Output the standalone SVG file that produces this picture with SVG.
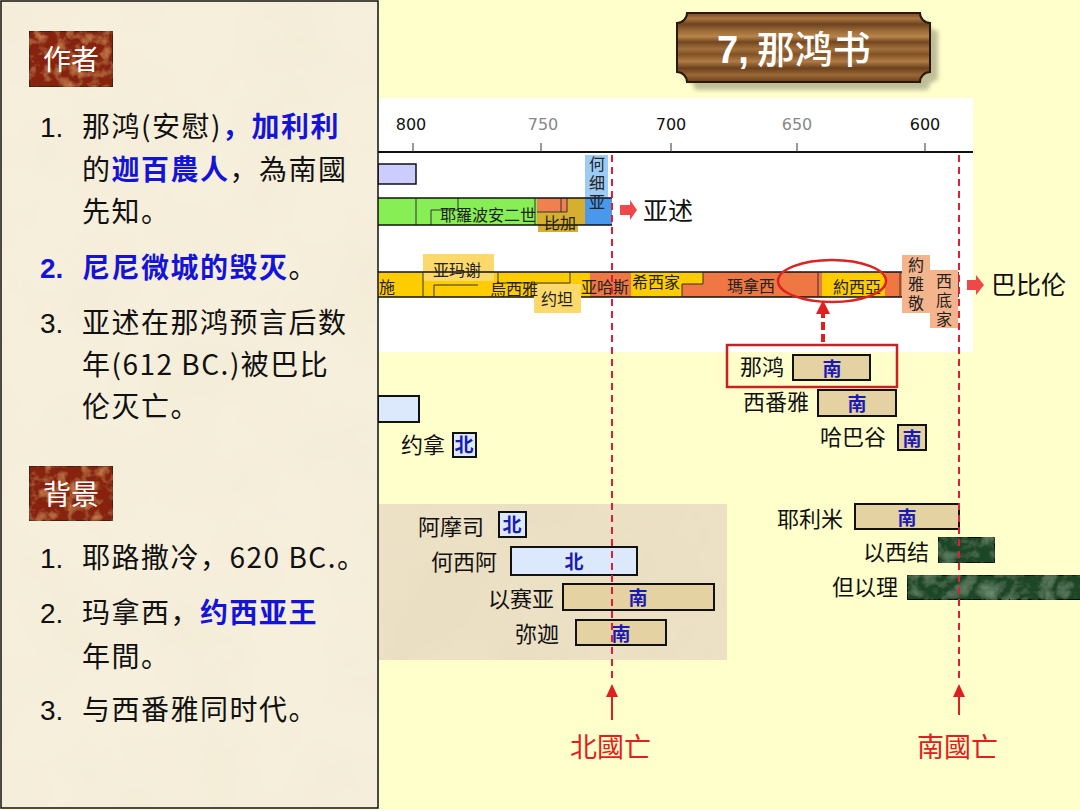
<svg xmlns="http://www.w3.org/2000/svg" width="1080" height="810" viewBox="0 0 1080 810">
<defs>
<style>
.cjk{font-family:'Noto Sans CJK SC','Noto Sans CJK TC',sans-serif}
.lat{font-family:'Liberation Sans',Arial,sans-serif}
.item{font-family:'Noto Sans CJK SC',sans-serif;font-size:28px;letter-spacing:1.5px;fill:#111}
.hl{fill:#1414D8;font-weight:bold}
.ax{font-family:'DejaVu Sans',sans-serif;font-size:16px;text-anchor:middle}
.bl{font-family:'Noto Sans CJK SC',sans-serif;font-size:16px;fill:#222}
.vt{font-family:'Noto Sans CJK SC',sans-serif;font-size:16px;fill:#222;writing-mode:vertical-rl;letter-spacing:3px}
.pn{font-family:'Noto Sans CJK SC',sans-serif;font-size:22px;fill:#111}
.kg{font-family:'Noto Sans CJK SC',sans-serif;font-size:19px;fill:#1A1AB4;font-weight:bold;text-anchor:middle}
.sb{fill:#E5D2A2;stroke:#111;stroke-width:2}
.nb{fill:#DCE9FC;stroke:#111;stroke-width:2}
.gb{fill:#1D4626;stroke:#111;stroke-width:2}
.dash{stroke:#E01E3A;stroke-width:2;stroke-dasharray:7 5;fill:none}
.red{fill:#E02020}
.bar{stroke:#111;stroke-width:1.5;fill:none}
.thin{stroke:#333;stroke-width:1;fill:none}
</style>
<filter id="paper" x="0" y="0" width="100%" height="100%">
<feTurbulence type="fractalNoise" baseFrequency="0.012" numOctaves="4" seed="4" result="n"/>
<feColorMatrix in="n" type="matrix" values="0 0 0 0 0.86  0 0 0 0 0.79  0 0 0 0 0.62  0.7 0 0 0 -0.28" result="c"/>
<feComposite in="c" in2="SourceGraphic" operator="atop"/>
</filter>
<filter id="marble" x="0" y="0" width="100%" height="100%">
<feTurbulence type="turbulence" baseFrequency="0.05" numOctaves="3" seed="7" result="n"/>
<feColorMatrix in="n" type="matrix" values="0 0 0 0 0.32  0 0 0 0 0.52  0 0 0 0 0.34  0.7 0 0 0 -0.12" result="c"/>
<feComposite in="c" in2="SourceGraphic" operator="atop"/>
</filter>
<filter id="rust" x="0" y="0" width="100%" height="100%">
<feTurbulence type="fractalNoise" baseFrequency="0.09" numOctaves="3" seed="2" result="n"/>
<feColorMatrix in="n" type="matrix" values="0 0 0 0 0.78  0 0 0 0 0.30  0 0 0 0 0.10  1.6 0 0 0 -0.75" result="c"/>
<feComposite in="c" in2="SourceGraphic" operator="atop"/>
</filter>
<filter id="shadow" x="-10%" y="-10%" width="130%" height="140%">
<feGaussianBlur stdDeviation="2"/>
</filter>
<linearGradient id="wood" x1="0" y1="0" x2="0" y2="1">
<stop offset="0" stop-color="#7A4A22"/>
<stop offset="0.08" stop-color="#A87440"/>
<stop offset="0.16" stop-color="#6E4220"/>
<stop offset="0.26" stop-color="#9C6A38"/>
<stop offset="0.34" stop-color="#B7844C"/>
<stop offset="0.42" stop-color="#74461F"/>
<stop offset="0.52" stop-color="#A0703C"/>
<stop offset="0.6" stop-color="#825226"/>
<stop offset="0.7" stop-color="#B07C46"/>
<stop offset="0.8" stop-color="#6C411E"/>
<stop offset="0.9" stop-color="#9A6836"/>
<stop offset="1" stop-color="#6A3E1C"/>
</linearGradient>
</defs>

<rect x="0" y="0" width="1080" height="810" fill="#FFFFCC"/>

<g id="title">
<path d="M695,21 H928 A10,10 0 0 0 938,31 V80 A10,10 0 0 0 928,90 H695 A10,10 0 0 0 685,80 V31 A10,10 0 0 0 695,21 Z" fill="#8A8A70" opacity="0.55" filter="url(#shadow)"/>
<path d="M687,13 H920 A10,10 0 0 0 930,23 V72 A10,10 0 0 0 920,82 H687 A10,10 0 0 0 677,72 V23 A10,10 0 0 0 687,13 Z" fill="url(#wood)" stroke="#2A1808" stroke-width="2"/>
<text x="717" y="63" fill="#FFFFFF" font-weight="bold" font-size="38"><tspan class="lat">7,</tspan><tspan class="cjk" font-weight="500" dx="8">那鸿书</tspan></text>
</g>

<g id="timeline">
<rect x="378" y="98" width="595" height="254" fill="#FFFFFF"/>
<line x1="378" y1="152" x2="973" y2="152" stroke="#111" stroke-width="2"/>
<g stroke="#333" stroke-width="1">
<line x1="413" y1="143" x2="413" y2="152"/>
<line x1="541" y1="143" x2="541" y2="152"/>
<line x1="671" y1="143" x2="671" y2="152"/>
<line x1="797" y1="143" x2="797" y2="152"/>
<line x1="925" y1="143" x2="925" y2="152"/>
</g>
<text class="ax" x="411" y="130" fill="#111">800</text>
<text class="ax" x="543" y="130" fill="#888">750</text>
<text class="ax" x="671" y="130" fill="#111">700</text>
<text class="ax" x="797" y="130" fill="#888">650</text>
<text class="ax" x="925" y="130" fill="#111">600</text>
</g>

<g id="israel-kings">
<rect x="378" y="164" width="38" height="20" fill="#CCCCFF" stroke="#111" stroke-width="1.5"/>
<rect x="378" y="198" width="159" height="27" fill="#88EE55"/>
<rect x="537" y="198" width="48" height="27" fill="#D6AE30"/>
<rect x="537" y="198" width="30" height="14" fill="#F08050"/>
<rect x="538" y="212" width="40" height="20" fill="#D6AE30"/>
<rect x="585" y="155" width="23" height="43" fill="#9CCCF6"/>
<rect x="585" y="198" width="27" height="27" fill="#4A98EC"/>
<line class="thin" x1="416" y1="198" x2="416" y2="225" stroke="#5A9A3A"/>
<line class="thin" x1="458" y1="198" x2="458" y2="210" stroke="#5A9A3A"/>
<line class="thin" x1="535" y1="198" x2="535" y2="225" stroke="#5A9A3A"/>
<line class="thin" x1="561" y1="198" x2="561" y2="212"/>
<path class="thin" d="M431,225 V210 H458" stroke="#111" stroke-width="1.5"/>
<path class="thin" d="M537,212 H567 V198"/>
<line class="bar" x1="378" y1="198" x2="612" y2="198"/>
<line class="bar" x1="378" y1="225" x2="612" y2="225"/>
<text class="bl" x="440" y="221">耶羅波安二世</text>
<text class="bl" x="544" y="229">比加</text>
<text class="vt" x="597" y="156" font-size="17" letter-spacing="6">何细亚</text>
</g>

<g id="judah-kings">
<rect x="378" y="272" width="212" height="25" fill="#FFCC00"/>
<rect x="423" y="254" width="71" height="27" fill="#FCD96A"/>
<rect x="590" y="272" width="41" height="25" fill="#EE7744"/>
<rect x="631" y="272" width="72" height="25" fill="#FFCC00"/>
<rect x="682" y="284" width="21" height="13" fill="#EE7744"/>
<rect x="703" y="272" width="119" height="25" fill="#EE7744"/>
<rect x="822" y="272" width="63" height="25" fill="#FFCC00"/>
<rect x="885" y="272" width="73" height="25" fill="#EE7744"/>
<line class="bar" x1="378" y1="272" x2="958" y2="272"/>
<line class="bar" x1="378" y1="297" x2="958" y2="297"/>
<line class="bar" x1="958" y1="272" x2="958" y2="297"/>
<line class="thin" x1="423" y1="272" x2="423" y2="297" stroke="#A07000"/>
<path class="thin" d="M434,297 V285 H478"/>
<path class="thin" d="M498,272 V283 H570 V272"/>
<path class="thin" d="M682,297 V284 H703 V272"/>
<line class="thin" x1="818" y1="272" x2="818" y2="297" stroke="#A04020"/>
<line class="thin" x1="900" y1="272" x2="900" y2="297" stroke="#A04020"/>
<rect x="534" y="284" width="47" height="29" fill="#FCD96A"/>
<rect x="902" y="255" width="28" height="58" fill="#F4B48C"/>
<rect x="930" y="270" width="28" height="58" fill="#F4B48C"/>
<text class="bl" x="379" y="293">施</text>
<text class="bl" x="433" y="276">亚玛谢</text>
<text class="bl" x="490" y="295">烏西雅</text>
<text class="bl" x="541" y="305">约坦</text>
<text class="bl" x="581" y="293">亚哈斯</text>
<text class="bl" x="632" y="288">希西家</text>
<text class="bl" x="727" y="292">瑪拿西</text>
<text class="bl" x="833" y="293">約西亞</text>
<text class="vt" x="916" y="257">約雅敬</text>
<text class="vt" x="944" y="273">西底家</text>
<ellipse cx="832" cy="281" rx="54" ry="21" fill="none" stroke="#DD2222" stroke-width="2.5"/>
</g>

<g id="empire-assyria">
<polygon points="620,205 630,205 630,200 637,210 630,220 630,215 620,215" fill="#F04848"/>
<text class="cjk" x="643" y="220" font-size="25" fill="#111">亚述</text>
</g>
<g id="empire-babylon">
<polygon points="967,280 976,280 976,275 984,285 976,295 976,290 967,290" fill="#F04848"/>
<text class="cjk" x="991" y="294" font-size="25" fill="#111">巴比伦</text>
</g>

<g id="preexile-panel">
<rect x="378" y="504" width="349" height="156" fill="#EBDFC3" filter="url(#paper)"/>
</g>

<g id="prophet-jonah">
<rect x="378" y="396" width="41" height="26" fill="#DCE9FC" stroke="#111" stroke-width="2"/>
<text class="pn" x="401" y="453">约拿</text>
<rect class="nb" x="453" y="433" width="23" height="24"/>
<text class="kg" x="464" y="452">北</text>
</g>
<g id="prophet-amos">
<text class="pn" x="418" y="535">阿摩司</text>
<rect class="nb" x="499" y="512" width="27" height="25"/>
<text class="kg" x="512" y="532">北</text>
</g>
<g id="prophet-hosea">
<text class="pn" x="431" y="570">何西阿</text>
<rect class="nb" x="511" y="547" width="126" height="28"/>
<text class="kg" x="574" y="569">北</text>
</g>
<g id="prophet-isaiah">
<text class="pn" x="488" y="607">以赛亚</text>
<rect class="sb" x="563" y="584" width="151" height="26"/>
<text class="kg" x="638" y="605">南</text>
</g>
<g id="prophet-micah">
<text class="pn" x="515" y="642">弥迦</text>
<rect class="sb" x="576" y="620" width="90" height="25"/>
<text class="kg" x="621" y="641">南</text>
</g>
<g id="prophet-nahum">
<rect x="727" y="345" width="170" height="42" fill="none" stroke="#CC2020" stroke-width="2.5"/>
<text class="pn" x="740" y="375">那鸿</text>
<rect class="sb" x="793" y="355" width="77" height="25"/>
<text class="kg" x="832" y="376">南</text>
</g>
<g id="prophet-zephaniah">
<text class="pn" x="743" y="410">西番雅</text>
<rect class="sb" x="818" y="390" width="78" height="26"/>
<text class="kg" x="857" y="411">南</text>
</g>
<g id="prophet-habakkuk">
<text class="pn" x="820" y="445">哈巴谷</text>
<rect class="sb" x="898" y="425" width="28" height="25"/>
<text class="kg" x="912" y="446">南</text>
</g>
<g id="prophet-jeremiah">
<text class="pn" x="777" y="527">耶利米</text>
<rect class="sb" x="855" y="504" width="104" height="25"/>
<text class="kg" x="907" y="525">南</text>
</g>
<g id="prophet-ezekiel">
<text class="pn" x="863" y="560">以西结</text>
<rect class="gb" x="938" y="537" width="57" height="26" filter="url(#marble)"/>
</g>
<g id="prophet-daniel">
<text class="pn" x="832" y="595">但以理</text>
<rect class="gb" x="907" y="575" width="175" height="25" filter="url(#marble)"/>
</g>

<g id="connectors">
<line class="dash" x1="612" y1="155" x2="612" y2="682"/>
<line class="dash" x1="959" y1="155" x2="959" y2="682"/>
<line x1="612" y1="720" x2="612" y2="694" stroke="#E02020" stroke-width="2"/>
<polygon class="red" points="612,684 606,697 618,697"/>
<line x1="959" y1="715" x2="959" y2="694" stroke="#E02020" stroke-width="2"/>
<polygon class="red" points="959,684 953,697 965,697"/>
<line x1="823" y1="342" x2="823" y2="312" stroke="#E02020" stroke-width="4" stroke-dasharray="8 4"/>
<polygon class="red" points="823,300 816,314 830,314"/>
</g>

<g id="fall-north">
<text class="cjk" x="570" y="757" font-size="27" fill="#E02020">北國亡</text>
</g>
<g id="fall-south">
<text class="cjk" x="917" y="757" font-size="27" fill="#E02020">南國亡</text>
</g>

<g id="left-panel">
<rect x="1" y="1" width="377" height="807" fill="#F6EFDC" filter="url(#paper)"/>
<rect x="1" y="1" width="377" height="807" fill="none" stroke="#111" stroke-width="1.5"/>
<g id="label-author">
<rect x="29" y="31" width="84" height="56" fill="#862410" stroke="#222" stroke-width="1.5" filter="url(#rust)"/>
<text class="cjk" x="71" y="70" font-size="28" fill="#FFFFFF" text-anchor="middle">作者</text>
</g>
<text class="item" y="137"><tspan class="lat" x="40" letter-spacing="0">1.</tspan><tspan x="82">那鸿(安慰)</tspan><tspan class="hl">，加利利</tspan></text>
<text class="item" y="180"><tspan x="82">的</tspan><tspan class="hl">迦百農人</tspan><tspan>，為南國</tspan></text>
<text class="item" y="222"><tspan x="82">先知。</tspan></text>
<text class="item" y="278"><tspan class="lat hl" x="40" letter-spacing="0">2.</tspan><tspan class="hl" x="82">尼尼微城的毁灭</tspan><tspan>。</tspan></text>
<text class="item" y="333"><tspan class="lat" x="40" letter-spacing="0">3.</tspan><tspan x="82">亚述在那鸿预言后数</tspan></text>
<text class="item" y="375"><tspan x="82">年(612 BC.)被巴比</tspan></text>
<text class="item" y="417"><tspan x="82">伦灭亡。</tspan></text>
<g id="label-background">
<rect x="29" y="466" width="84" height="55" fill="#862410" stroke="#222" stroke-width="1.5" filter="url(#rust)"/>
<text class="cjk" x="71" y="505" font-size="28" fill="#FFFFFF" text-anchor="middle">背景</text>
</g>
<text class="item" y="568"><tspan class="lat" x="40" letter-spacing="0">1.</tspan><tspan x="82">耶路撒冷，620 BC.。</tspan></text>
<text class="item" y="623"><tspan class="lat" x="40" letter-spacing="0">2.</tspan><tspan x="82">玛拿西，</tspan><tspan class="hl">约西亚王</tspan></text>
<text class="item" y="667"><tspan x="82">年間。</tspan></text>
<text class="item" y="720"><tspan class="lat" x="40" letter-spacing="0">3.</tspan><tspan x="82">与西番雅同时代。</tspan></text>
</g>
</svg>
